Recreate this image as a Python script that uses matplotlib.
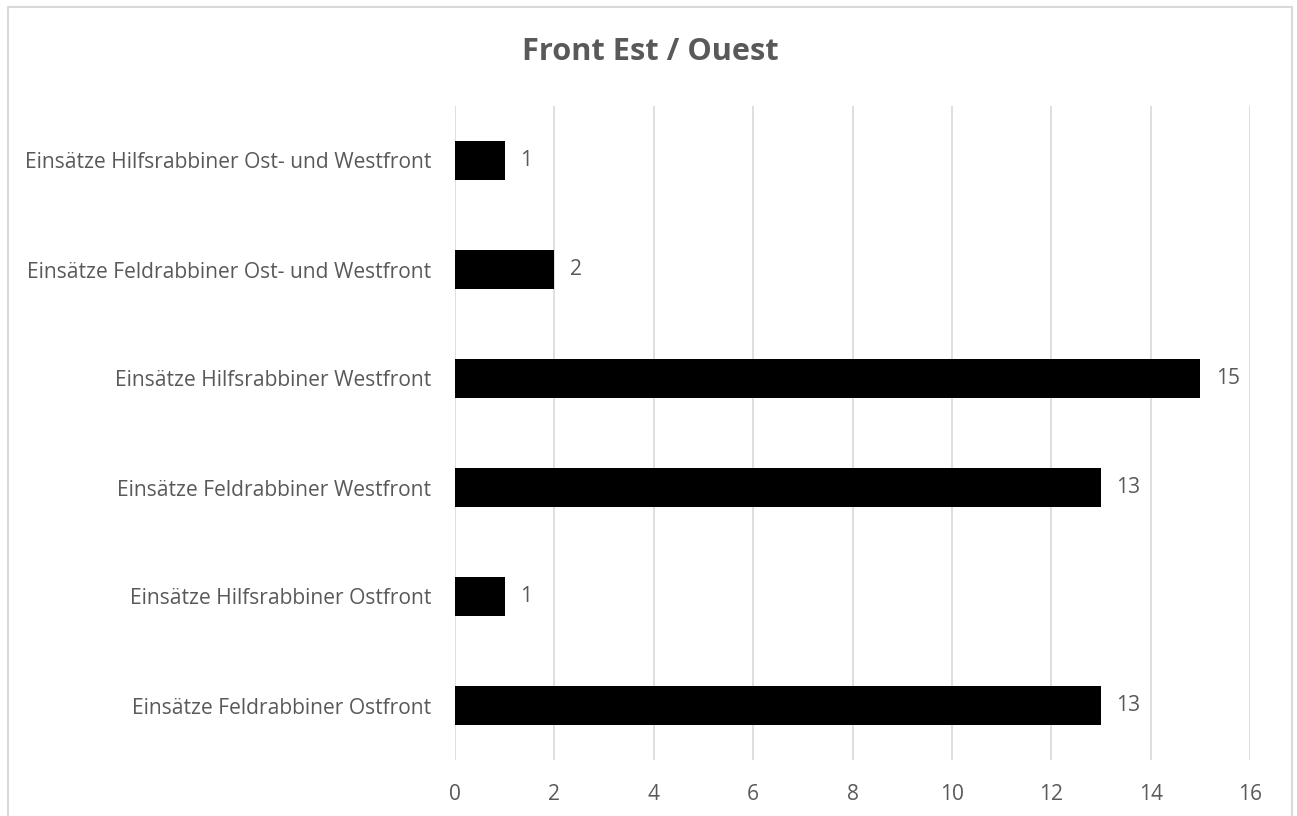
import matplotlib
matplotlib.use("Agg")
import matplotlib.pyplot as plt
from matplotlib.patches import Rectangle

categories = [
    "Einsätze Feldrabbiner Ostfront",
    "Einsätze Hilfsrabbiner Ostfront",
    "Einsätze Feldrabbiner Westfront",
    "Einsätze Hilfsrabbiner Westfront",
    "Einsätze Feldrabbiner Ost- und Westfront",
    "Einsätze Hilfsrabbiner Ost- und Westfront",
]
values = [13, 1, 13, 15, 2, 1]
xticks = [0, 2, 4, 6, 8, 10, 12, 14, 16]
title = "Front Est / Ouest"

plt.rcParams['font.family'] = ['Open Sans', 'DejaVu Sans']
gray = "#595959"

W, H = 1297, 816
fig = plt.figure(figsize=(W / 100, H / 100), dpi=100)
fig.patch.set_facecolor("white")
renderer = fig.canvas.get_renderer()


def fit_size(text, target_px, weight="normal", base=12.0):
    t = fig.text(0, 0, text, fontsize=base, fontweight=weight)
    w = t.get_window_extent(renderer).width
    t.remove()
    return base * target_px / w


label_fs = fit_size(max(categories, key=len), 404)
title_fs = fit_size(title, 257, weight="bold")

# outer chart frame
fig.add_artist(Rectangle((8 / W, -0.05), (1292 - 8) / W, 1.05 - 7 / H,
                         transform=fig.transFigure, fill=False,
                         edgecolor="#d9d9d9", linewidth=1.5))

ax = fig.add_axes([455 / W, 1 - 760 / H, (1250 - 455) / W, (760 - 106) / H])
y = list(range(len(categories)))
ax.barh(y, values, height=0.36, color="black", zorder=3)
ax.set_xlim(0, 16)
ax.set_ylim(-0.5, len(categories) - 0.5)
ax.set_xticks(xticks)
ax.set_xticklabels([str(t) for t in xticks])
ax.set_yticks(y)
ax.set_yticklabels(categories)
ax.grid(axis="x", color="#d9d9d9", linewidth=1.2, zorder=0)
for s in ax.spines.values():
    s.set_visible(False)
ax.tick_params(axis="both", length=0, labelsize=label_fs, colors=gray)
ax.tick_params(axis="x", pad=17)
ax.tick_params(axis="y", pad=17)

for yi, v in zip(y, values):
    ax.annotate(str(v), (v, yi), xytext=(11, 0), textcoords="offset points",
                va="center", ha="left", fontsize=label_fs, color=gray)

fig.text(650 / W, 1 - 60.5 / H, title, ha="center", va="baseline",
         fontsize=title_fs, fontweight="bold", color=gray)

fig.savefig("out.png", dpi=100)
